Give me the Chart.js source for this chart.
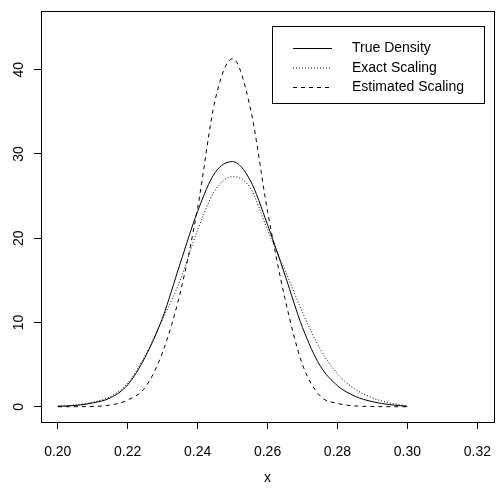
<!DOCTYPE html>
<html>
<head>
<meta charset="utf-8">
<script src="https://cdn.jsdelivr.net/npm/chart.js@4"></script>
<style>
  html, body { margin: 0; padding: 0; background: #fff; overflow: hidden; }
  canvas { display: block; }
</style>
</head>
<body>
<canvas id="chart" width="506" height="496"></canvas>
<script>
// values
const xValues = [0.200, 0.205, 0.210, 0.215, 0.220, 0.225, 0.230, 0.235, 0.240, 0.245, 0.250,
                 0.255, 0.260, 0.265, 0.270, 0.275, 0.280, 0.285, 0.290, 0.295, 0.300];
const trueDensity = [0.05, 0.15, 0.45, 1.05, 2.6, 5.9, 10.6, 17.0, 23.2, 27.8, 29.1,
                     26.9, 21.6, 15.6, 9.4, 4.9, 2.5, 1.25, 0.6, 0.25, 0.05];
const exactScaling = [0.08, 0.22, 0.55, 1.2, 2.8, 6.1, 10.4, 15.0, 21.0, 25.7, 27.3,
                      26.0, 21.0, 16.2, 11.2, 6.9, 3.9, 2.1, 1.05, 0.45, 0.1];
const estimatedScaling = [0.0, 0.01, 0.04, 0.2, 0.8, 2.3, 6.5, 13.5, 23.6, 36.4, 41.3,
                          35.6, 23.2, 12.8, 5.0, 1.3, 0.4, 0.1, 0.03, 0.01, 0.0];
const seriesLabels = ['True Density', 'Exact Scaling', 'Estimated Scaling'];
const xTicks = [0.20, 0.22, 0.24, 0.26, 0.28, 0.30, 0.32];
const yTicks = [0, 10, 20, 30, 40];

const FONT = '"Liberation Sans", Arial, Helvetica, sans-serif';

function toPoints(ys) {
    return xValues.map((x, i) => ({ x: x, y: ys[i] }));
}

// R-style frame, rotated y labels and the legend box
const basePlotPlugin = {
    id: 'basePlot',
    afterDraw(chart) {
        const ctx = chart.ctx;
        const area = chart.chartArea;
        const yScale = chart.scales.y;
        ctx.save();

        // box
        ctx.strokeStyle = '#000';
        ctx.lineWidth = 1;
        ctx.setLineDash([]);
        ctx.strokeRect(Math.round(area.left) + 0.5, Math.round(area.top) + 0.5,
            Math.round(area.right - area.left), Math.round(area.bottom - area.top));

        // y tick labels, reading upwards
        ctx.fillStyle = '#000';
        ctx.font = '14px ' + FONT;
        ctx.textAlign = 'center';
        ctx.textBaseline = 'middle';
        yTicks.forEach(v => {
            ctx.save();
            ctx.translate(19, yScale.getPixelForValue(v));
            ctx.rotate(-Math.PI / 2);
            ctx.fillText(String(v), 0, 0);
            ctx.restore();
        });

        // legend
        const lx = 272.5, ly = 26.5, lw = 212, lh = 77;
        ctx.strokeRect(lx, ly, lw, lh);
        const rows = [48.5, 68, 87.5];
        chart.data.datasets.forEach((ds, i) => {
            ctx.beginPath();
            ctx.setLineDash(ds.borderDash || []);
            ctx.lineWidth = ds.borderWidth;
            ctx.moveTo(293, rows[i]);
            ctx.lineTo(332, rows[i]);
            ctx.stroke();
            ctx.setLineDash([]);
            ctx.textAlign = 'left';
            ctx.fillText(ds.label, 352, rows[i]);
        });
        ctx.restore();
    }
};

const ctx = document.getElementById('chart').getContext('2d');
new Chart(ctx, {
    type: 'line',
    data: {
        datasets: [
            { label: seriesLabels[0], data: toPoints(trueDensity), borderDash: [] },
            { label: seriesLabels[1], data: toPoints(exactScaling), borderDash: [1, 2] },
            { label: seriesLabels[2], data: toPoints(estimatedScaling), borderDash: [4, 4] }
        ].map(ds => Object.assign(ds, {
            borderColor: '#000',
            borderWidth: 1,
            pointRadius: 0,
            fill: false,
            cubicInterpolationMode: 'monotone'
        }))
    },
    options: {
        responsive: false,
        animation: false,
        layout: { padding: { top: 11, right: 1, left: 0, bottom: 0 } },
        plugins: {
            legend: { display: false },
            tooltip: { enabled: false }
        },
        scales: {
            x: {
                type: 'linear',
                min: 0.1952,
                max: 0.3248,
                afterBuildTicks: scale => { scale.ticks = xTicks.map(v => ({ value: v })); },
                afterFit: scale => { scale.height = 74; },
                border: { display: false },
                grid: { drawOnChartArea: false, drawTicks: true, tickLength: 7, color: '#000', lineWidth: 1 },
                ticks: {
                    autoSkip: false,
                    maxRotation: 0,
                    padding: 15,
                    color: '#000',
                    font: { family: FONT, size: 14 },
                    callback: v => v.toFixed(2)
                },
                title: {
                    display: true,
                    text: 'x',
                    color: '#000',
                    font: { family: FONT, size: 14 },
                    padding: { top: 0, bottom: 9 }
                }
            },
            y: {
                type: 'linear',
                min: -1.81,
                max: 46.97,
                afterBuildTicks: scale => { scale.ticks = yTicks.map(v => ({ value: v })); },
                afterFit: scale => { scale.width = 41; },
                border: { display: false },
                grid: { drawOnChartArea: false, drawTicks: true, tickLength: 7, color: '#000', lineWidth: 1 },
                ticks: { display: false }
            }
        }
    },
    plugins: [basePlotPlugin]
});
</script>
</body>
</html>
